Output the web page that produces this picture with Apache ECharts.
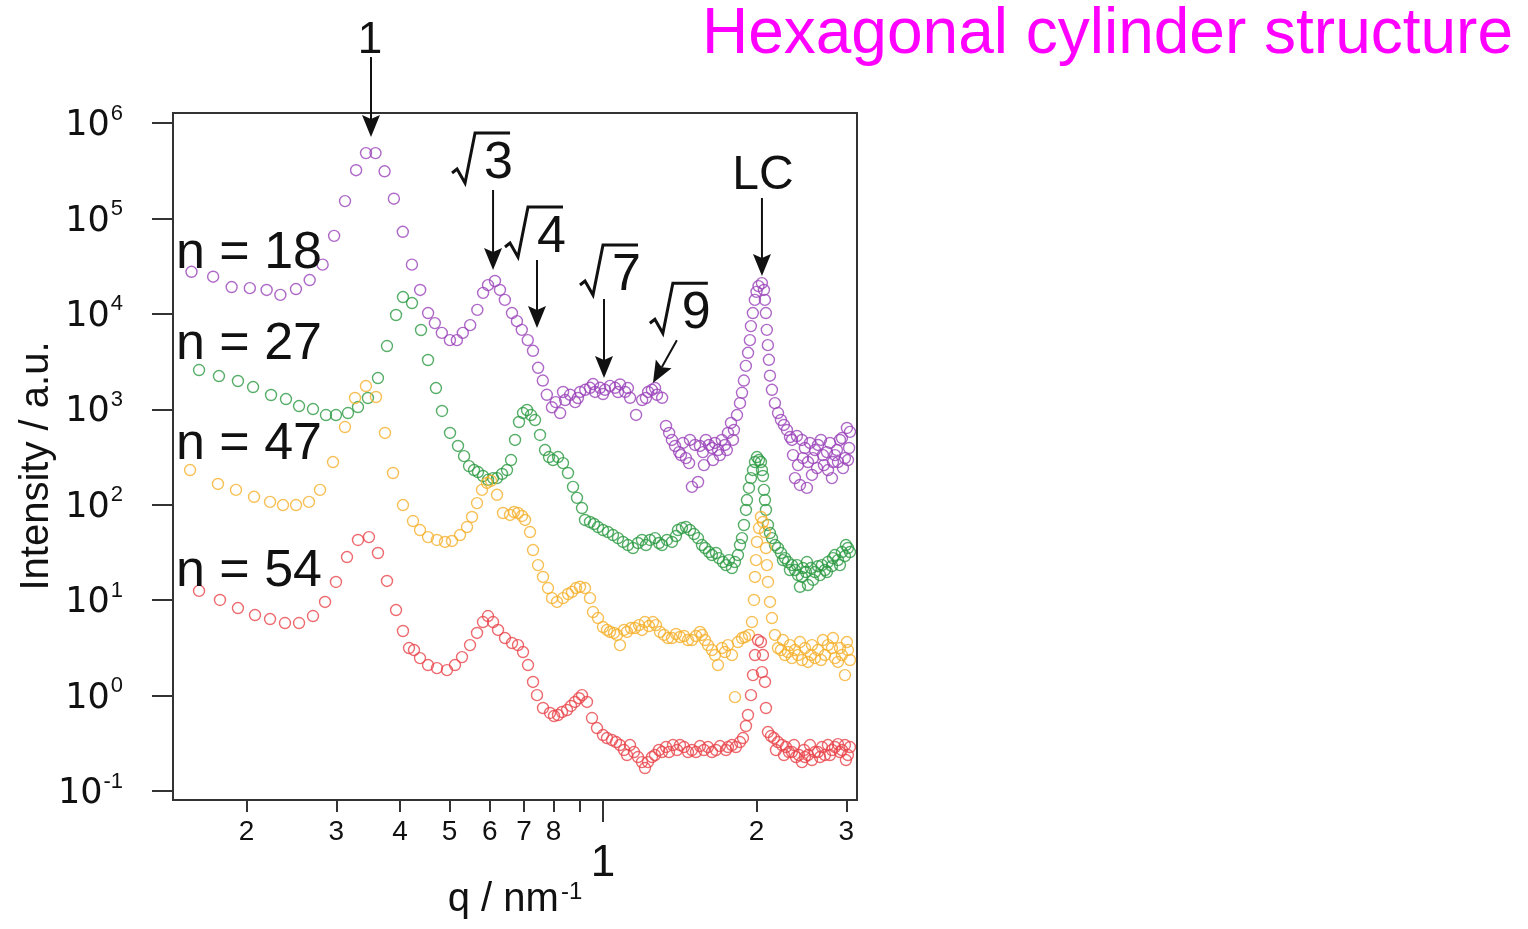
<!DOCTYPE html>
<html>
<head>
<meta charset="utf-8">
<title>Hexagonal cylinder structure</title>
<script src="https://cdn.jsdelivr.net/npm/echarts@6/dist/echarts.min.js"></script>
<style>
  html, body { margin: 0; padding: 0; background: #ffffff; }
  #chart { width: 1528px; height: 929px; }
</style>
</head>
<body>
<div id="chart"></div>
<script>
// ---- axis ticks and labels ----
const qMinorTicks = [0.2, 0.3, 0.4, 0.5, 0.6, 0.7, 0.8, 0.9, 2, 3];
const qMajorTicks = [1];
const qLabelValues = [0.2, 0.3, 0.4, 0.5, 0.6, 0.7, 0.8, 1, 2, 3];
const qLabelTexts = ['2', '3', '4', '5', '6', '7', '8', '1', '2', '3'];
const intensityTicks = [0.1, 1, 10, 100, 1000, 10000, 100000, 1000000];
const intensityExponents = ['-1', '0', '1', '2', '3', '4', '5', '6'];

// ---- scattering curves: [q / nm^-1, intensity / a.u.] ----
const seriesNames = ['n = 18', 'n = 27', 'n = 47', 'n = 54'];

const n18 = [
  [0.156,27600],[0.172,24500],[0.187,19100],[0.203,18600],[0.219,17800],[0.233,15800],[0.250,18200],[0.266,22600],
  [0.282,32800],[0.297,65700],[0.312,152000],[0.328,320000],[0.343,484000],[0.358,484000],[0.373,312000],[0.389,161000],
  [0.405,72400],[0.422,32800],[0.438,17800],[0.454,10200],[0.468,8000],[0.483,6320],[0.501,5300],[0.517,5300],
  [0.531,6320],[0.549,7620],[0.567,11000],[0.582,16600],[0.595,20000],[0.614,22100],[0.628,17800],[0.642,14000],
  [0.663,10200],[0.678,8390],[0.693,6800],[0.712,5300],[0.729,4100],[0.746,2720],[0.762,2000],[0.776,1420],
  [0.794,1050],[0.808,1190],[0.824,914],[0.835,1518],[0.843,1250],[0.862,1420],[0.882,1190],[0.893,1313],
  [0.902,1520],[0.923,1600],[0.943,1680],[0.956,1840],[0.965,1520],[0.987,1680],[1.000,1446],[1.009,1600],
  [1.032,1760],[1.056,1680],[1.070,1518],[1.080,1820],[1.105,1520],[1.119,1670],[1.130,1320],[1.161,872],
  [1.193,1250],[1.214,1313],[1.226,1520],[1.247,1600],[1.265,1670],[1.276,1420],[1.306,1320],
  [1.329,669],[1.348,565],[1.365,477],[1.384,413],[1.410,356],[1.422,331],[1.435,444],[1.454,308],
  [1.475,273],[1.481,477],[1.494,154],[1.515,423],[1.536,173],[1.549,413],[1.570,356],[1.577,260],
  [1.591,477],[1.614,423],[1.636,393],[1.643,294],[1.658,444],[1.681,374],[1.695,331],[1.710,477],
  [1.734,423],[1.749,374],[1.758,565],[1.782,719],[1.798,477],[1.806,607],[1.831,870],[1.856,1160],
  [1.873,1490],[1.889,2000],[1.906,2850],[1.925,3910],[1.941,5300],[1.950,7440],[1.967,10200],[1.985,14000],
  [2.000,17000],[2.018,19550],[2.049,21000],[2.068,17800],[2.077,14000],[2.086,10200],[2.095,6800],[2.105,4700],
  [2.115,3300],[2.125,2250],[2.144,1600],[2.173,1160],[2.204,914],[2.233,773],[2.263,685],[2.294,607],
  [2.326,512],[2.347,477],[2.358,331],[2.379,190],[2.400,525],[2.412,260],[2.433,161],[2.455,477],
  [2.466,308],[2.488,393],[2.511,150],[2.523,280],[2.546,444],[2.569,205],[2.581,308],[2.604,374],
  [2.628,242],[2.640,423],[2.675,477],[2.699,331],[2.711,260],[2.748,356],[2.762,231],[2.786,444],
  [2.811,190],[2.824,280],[2.850,331],[2.875,374],[2.889,280],[2.915,477],[2.941,500],[2.955,242],
  [2.981,308],[3.008,637],[3.023,294],[3.037,393],[3.050,580]
];

const n27 = [
  [0.1614,2580],[0.1766,2231],[0.1924,1979],[0.2060,1711],[0.2234,1412],[0.2390,1281],[0.2535,1082],[0.2700,1006],
  [0.2863,871],[0.2995,871],[0.3162,914],[0.3308,1056],[0.3460,1313],[0.3620,2126],[0.3771,4603],[0.3928,9730],
  [0.4053,15010],[0.4222,12990],[0.4397,6775],[0.4538,3285],[0.4704,1670],[0.4834,960],[0.5012,565],[0.5196,413],
  [0.5340,323],[0.5461,254],[0.5586,231],[0.5687,220],[0.5817,200],[0.5950,182],[0.6087,190],[0.6197,190],
  [0.6339,210],[0.6483,231],[0.6602,294],[0.6722,477],[0.6844,736],[0.6969,914],[0.7096,983],[0.7225,871],
  [0.7357,772],[0.7525,538],[0.7697,374],[0.7837,316],[0.7980,294],[0.8162,316],[0.8348,273],[0.8538,215],
  [0.8733,154],[0.8892,118],[0.9095,92.3],[0.9219,69.2],[0.9430,65.9],[0.9602,62.8],[0.9776,58.4],[1.0000,54.3],
  [1.0227,51.7],[1.0461,48.1],[1.0700,44.7],[1.0944,40.7],[1.1193,37.8],[1.1450,35.2],[1.1711,39.7],[1.1923,42.7],
  [1.2141,37.8],[1.2363,42.7],[1.2645,44.7],[1.2875,39.7],[1.3050,37.8],[1.3348,42.7],[1.3653,40.7],[1.3902,47.0],
  [1.4028,54.3],[1.4283,57.0],[1.4544,58.4],[1.4810,54.3],[1.5080,49.3],[1.5353,44.7],[1.5633,37.8],[1.5847,35.2],
  [1.6135,31.9],[1.6355,29.7],[1.6653,31.2],[1.6880,27.6],[1.7188,25.1],[1.7422,23.3],[1.7659,26.3],[1.7900,21.7],
  [1.8144,25.1],[1.8391,29.7],[1.8560,37.8],[1.8727,44.7],[1.8898,61.3],[1.9069,88.1],[1.9154,112],[1.9328,150],
  [1.9504,190],[1.9681,231],[1.9860,280],[2.0038,316],[2.0221,294],[2.0404,280],[2.0496,231],[2.0589,200],
  [2.0683,143],[2.0776,112],[2.0870,88.1],[2.1058,61.3],[2.1251,50.5],[2.1442,44.7],[2.1735,37.8],[2.2031,35.2],
  [2.2332,31.2],[2.2534,26.3],[2.2739,27.6],[2.3048,25.1],[2.3259,20.7],[2.3468,23.3],[2.3789,20.7],[2.4003,23.3],
  [2.4113,18.3],[2.4333,13.8],[2.4552,17.5],[2.4664,21.7],[2.5000,19.7],[2.5112,25.1],[2.5226,14.4],[2.5571,21.7],
  [2.5802,16.3],[2.6036,19.7],[2.6390,22.7],[2.6632,18.3],[2.6872,23.3],[2.7239,20.7],[2.7484,19.7],[2.7609,25.1],
  [2.8113,22.7],[2.8241,27.6],[2.8497,29.7],[2.8885,26.3],[2.9148,23.3],[2.9410,31.9],[2.9813,29.0],[2.9947,37.8],
  [3.0218,35.2],[3.0494,31.9]
];

const n47 = [
  [0.1550,231],[0.1758,165],[0.1907,143],[0.2069,121],[0.2224,107],[0.2358,99.2],[0.2501,99.2],[0.2651,107],
  [0.2787,143],[0.2955,280],[0.3119,652],[0.3264,1313],[0.3429,1753],[0.3588,1345],[0.3737,565],[0.3875,215],
  [0.4053,99.2],[0.4241,67.5],[0.4377,54.3],[0.4538,45.8],[0.4725,42.7],[0.4900,40.7],[0.5057,41.7],[0.5244,48.1],
  [0.5412,58.4],[0.5535,74.4],[0.5662,104],[0.5791,143],[0.5923,169],[0.6032,178],[0.6197,127],[0.6367,81.9],
  [0.6572,78.1],[0.6692,83.9],[0.6813,81.9],[0.6938,76.2],[0.7033,69.2],[0.7193,51.7],[0.7291,33.5],[0.7457,23.3],
  [0.7627,17.5],[0.7801,13.4],[0.7944,10.5],[0.8125,9.57],[0.8348,10.5],[0.8538,11.6],[0.8694,12.2],[0.8852,13.4],
  [0.9014,13.8],[0.9219,13.4],[0.9430,10.5],[0.9558,7.51],[0.9776,6.49],[0.9999,5.23],[1.0181,4.87],[1.0321,4.64],
  [1.0509,4.53],[1.0651,4.32],[1.0797,3.38],[1.0994,4.87],[1.1142,4.64],[1.1347,5.10],[1.1553,5.10],[1.1764,5.48],
  [1.1923,4.87],[1.2086,5.90],[1.2306,5.35],[1.2531,5.90],[1.2702,5.48],[1.2934,4.64],[1.3169,4.32],[1.3409,4.01],
  [1.3653,4.01],[1.3902,4.42],[1.4156,4.11],[1.4414,4.21],[1.4676,3.82],[1.4943,3.82],[1.5216,4.21],[1.5494,4.64],
  [1.5633,4.32],[1.5847,3.82],[1.6063,3.38],[1.6355,3.00],[1.6579,2.66],[1.6804,2.09],[1.7110,3.15],[1.7344,2.86],
  [1.7579,3.38],[1.7900,2.66],[1.8144,0.963],[1.8391,3.64],[1.8727,4.01],[1.8983,4.11],[1.9328,4.32],[1.9592,5.90],
  [1.9770,10.04],[1.9860,17.5],[1.9949,26.3],[2.0038,40.7],[2.0221,57.0],[2.0404,74.4],[2.0589,65.9],[2.0776,51.7],
  [2.0870,35.2],[2.0964,23.3],[2.1058,15.5],[2.1251,9.57],[2.1442,6.49],[2.1735,4.32],[2.2031,3.15],[2.2332,3.00],
  [2.2534,3.82],[2.2739,2.66],[2.3048,2.86],[2.3259,3.38],[2.3468,2.47],[2.3789,3.00],[2.4113,2.66],[2.4333,3.64],
  [2.4552,2.36],[2.4885,3.15],[2.5226,2.25],[2.5571,2.66],[2.5685,3.38],[2.6036,2.47],[2.6390,3.00],[2.6752,2.36],
  [2.6994,3.82],[2.7239,2.66],[2.7609,3.38],[2.8113,3.15],[2.8241,4.01],[2.8497,2.47],[2.8885,2.25],[2.9148,3.15],
  [2.9410,2.66],[2.9813,1.64],[3.0080,3.64],[3.0218,3.00],[3.0494,2.36]
];

const n54 = [
  [0.1614,12.5],[0.1774,10.04],[0.1924,8.27],[0.2078,6.98],[0.2224,6.34],[0.2379,5.76],[0.2535,5.76],[0.2700,6.82],
  [0.2851,9.57],[0.2995,15.5],[0.3148,28.3],[0.3308,42.7],[0.3476,45.8],[0.3620,31.2],[0.3771,15.9],[0.3928,7.88],
  [0.4053,4.75],[0.4165,3.15],[0.4260,3.00],[0.4377,2.47],[0.4538,2.09],[0.4725,1.94],[0.4944,1.85],[0.5126,2.09],
  [0.5291,2.53],[0.5486,3.38],[0.5662,4.53],[0.5817,5.90],[0.5950,6.82],[0.6087,5.90],[0.6225,4.87],[0.6425,4.01],
  [0.6631,3.55],[0.6813,3.38],[0.6969,2.86],[0.7128,2.09],[0.7291,1.39],[0.7423,1.01],[0.7627,0.741],[0.7873,0.657],
  [0.8016,0.611],[0.8162,0.626],[0.8310,0.673],[0.8500,0.706],[0.8655,0.778],[0.8812,0.857],[0.8973,0.939],[0.9095,1.01],
  [0.9302,0.857],[0.9515,0.582],[0.9732,0.457],[0.9999,0.386],[1.0181,0.359],[1.0414,0.342],[1.0604,0.326],[1.0797,0.303],
  [1.0994,0.269],[1.1142,0.238],[1.1296,0.303],[1.1502,0.256],[1.1711,0.227],[1.1923,0.201],[1.2086,0.174],[1.2251,0.201],
  [1.2474,0.227],[1.2645,0.238],[1.2875,0.269],[1.3050,0.256],[1.3288,0.289],[1.3470,0.256],[1.3715,0.303],[1.3964,0.269],
  [1.4156,0.303],[1.4414,0.289],[1.4676,0.256],[1.4943,0.269],[1.5216,0.256],[1.5494,0.296],[1.5776,0.269],[1.6063,0.289],
  [1.6355,0.256],[1.6653,0.269],[1.6957,0.296],[1.7422,0.269],[1.7579,0.289],[1.7900,0.303],[1.8226,0.289],[1.8560,0.326],
  [1.8812,0.359],[1.9069,0.480],[1.9241,0.626],[1.9504,1.01],[1.9681,1.64],[1.9860,2.66],[2.0129,3.82],[2.0404,3.64],
  [2.0496,1.76],[2.0589,2.66],[2.0776,1.39],[2.0870,0.741],[2.1058,0.415],[2.1347,0.377],[2.1638,0.359],[2.1834,0.269],
  [2.2031,0.326],[2.2432,0.303],[2.2637,0.238],[2.2841,0.289],[2.3152,0.256],[2.3468,0.256],[2.3683,0.303],[2.3896,0.227],
  [2.4222,0.238],[2.4552,0.201],[2.4776,0.269],[2.4885,0.227],[2.5226,0.238],[2.5456,0.303],[2.5685,0.211],[2.6036,0.256],
  [2.6390,0.256],[2.6632,0.227],[2.6872,0.289],[2.7239,0.238],[2.7609,0.303],[2.7862,0.238],[2.8113,0.269],[2.8497,0.289],
  [2.8885,0.310],[2.9148,0.256],[2.9410,0.269],[2.9813,0.303],[2.9947,0.211],[3.0218,0.238],[3.0494,0.289]
];

// ---- peak assignments (arrow tips sit on the n = 18 curve) ----
const peakLabels = ['1', '√3', '√4', '√7', '√9', 'LC'];
const peakQ = [0.3508, 0.6087, 0.7423, 1.0045, 1.2531, 2.0496];
const peakI = [713000, 28830, 7109, 2127, 1886, 24930];

// ---- drawing styles ----
const FONT = "'Liberation Sans', Arial, Helvetica, sans-serif";
const INK = '#111111';
const AXIS = '#333333';
const seriesColors = ['#9a42b9', '#2c9a42', '#f5b02c', '#e8454b'];
const seriesData = [n18, n27, n47, n54];

// arrow length (px) and direction, label offsets relative to the arrow tail
const arrowGeometry = [
  { len: 80, dir: [0, 1], kind: 'plain', dx: -1, dy: -3, size: 44 },
  { len: 80, dir: [0, 1], kind: 'root', dx: -18, dy: -10 },
  { len: 68, dir: [0, 1], kind: 'root', dx: -9, dy: -6 },
  { len: 79, dir: [0, 1], kind: 'root', dx: -1, dy: -7 },
  { len: 49, dir: [-24, 43], kind: 'root', dx: -4, dy: -10 },
  { len: 78, dir: [0, 1], kind: 'plain', dx: 1, dy: -7, size: 48 }
];

// baseline placement helper: zrender centres text on the em box
function baselineY(base, size) { return base - 0.31 * size; }

function renderPeak(params, api) {
  const i = api.value(2);
  const g = arrowGeometry[i];
  const tip = api.coord([api.value(0), api.value(1)]);
  const m = Math.hypot(g.dir[0], g.dir[1]);
  const d = [g.dir[0] / m, g.dir[1] / m];
  const p = [-d[1], d[0]];
  const tail = [tip[0] - d[0] * g.len, tip[1] - d[1] * g.len];
  const headLen = 22, headHalf = 9;
  const base = [tip[0] - d[0] * headLen, tip[1] - d[1] * headLen];
  const notch = [tip[0] - d[0] * headLen * 0.82, tip[1] - d[1] * headLen * 0.82];
  const children = [
    { type: 'line', shape: { x1: tail[0], y1: tail[1], x2: notch[0], y2: notch[1] },
      style: { stroke: INK, lineWidth: 2 } },
    { type: 'polygon', shape: { points: [tip, [base[0] + p[0] * headHalf, base[1] + p[1] * headHalf], notch,
        [base[0] - p[0] * headHalf, base[1] - p[1] * headHalf]] },
      style: { fill: INK } }
  ];
  const label = peakLabels[i];
  if (g.kind === 'root') {
    const U = tail[0] + g.dx;      // top of the radical's long stroke
    const B = tail[1] + g.dy;      // digit baseline
    children.push({
      type: 'polyline',
      shape: { points: [[U - 23, B - 7], [U - 18, B - 11], [U - 10, B + 3], [U, B - 47], [U + 35, B - 47]] },
      style: { stroke: INK, lineWidth: 3, fill: null, lineJoin: 'miter' }
    });
    children.push({
      type: 'text',
      style: { x: U + 9, y: baselineY(B, 52), text: label.slice(1), font: '52px ' + FONT,
        fill: INK, align: 'left', verticalAlign: 'middle' }
    });
  } else {
    children.push({
      type: 'text',
      style: { x: tail[0] + g.dx, y: baselineY(tail[1] + g.dy, g.size), text: label, font: g.size + 'px ' + FONT,
        fill: INK, align: 'center', verticalAlign: 'middle' }
    });
  }
  return { type: 'group', children };
}

const chart = echarts.init(document.getElementById('chart'), null, { renderer: 'canvas' });

const scatterSeries = seriesData.map((data, k) => ({
  name: seriesNames[k],
  type: 'scatter',
  data: data,
  xAxisIndex: 0,
  yAxisIndex: 0,
  symbol: 'circle',
  symbolSize: 11,
  itemStyle: { color: 'rgba(255,255,255,0)', borderColor: seriesColors[k], borderWidth: 1.4 },
  silent: true,
  z: 3
}));

// "n = .." captions, baselines in px
const captionBaselines = [270, 361, 461, 588];

chart.setOption({
  animation: false,
  backgroundColor: '#ffffff',
  grid: { left: 173, top: 113, width: 684, height: 687, show: true, borderColor: AXIS, borderWidth: 2,
    backgroundColor: 'rgba(0,0,0,0)', containLabel: false, outerBoundsMode: 'none' },
  xAxis: [
    {
      type: 'log', logBase: 10, min: 0.1435, max: 3.148,
      name: '{t|q / nm}{s|-1}', nameLocation: 'middle', nameGap: 80, nameMoveOverlap: false,
      nameTextStyle: { rich: {
        t: { fontFamily: FONT, fontSize: 40, color: INK },
        s: { fontFamily: FONT, fontSize: 24, color: INK, verticalAlign: 'top', padding: [0, 0, 16, 2] }
      } },
      axisLine: { show: false },
      splitLine: { show: false },
      minorTick: { show: false },
      axisTick: { show: true, inside: false, length: 12, customValues: qMinorTicks,
        lineStyle: { color: AXIS, width: 2 } },
      axisLabel: {
        show: true, margin: 18, customValues: qLabelValues,
        formatter: function (v) {
          let idx = 0, best = Infinity;
          qLabelValues.forEach((t, j) => { const e = Math.abs(Math.log(t / v)); if (e < best) { best = e; idx = j; } });
          return qLabelValues[idx] === 1 ? '{big|' + qLabelTexts[idx] + '}' : '{n|' + qLabelTexts[idx] + '}';
        },
        rich: {
          n: { fontFamily: FONT, fontSize: 28, color: INK },
          big: { fontFamily: FONT, fontSize: 44, color: INK, padding: [24, 0, 0, 0] }
        }
      }
    },
    {
      type: 'log', logBase: 10, min: 0.1435, max: 3.148, position: 'bottom',
      axisLine: { show: false }, splitLine: { show: false }, axisLabel: { show: false },
      axisTick: { show: true, inside: false, length: 22, customValues: qMajorTicks,
        lineStyle: { color: AXIS, width: 2 } }
    }
  ],
  yAxis: {
    type: 'log', logBase: 10, min: 0.0805, max: 1273000,
    axisLine: { show: false },
    splitLine: { show: false },
    minorTick: { show: false },
    axisTick: { show: true, inside: false, length: 21, customValues: intensityTicks,
      lineStyle: { color: AXIS, width: 2 } },
    axisLabel: {
      show: true, margin: 50, customValues: intensityTicks,
      formatter: function (v) {
        let idx = 0, best = Infinity;
        intensityTicks.forEach((t, j) => { const e = Math.abs(Math.log(t / v)); if (e < best) { best = e; idx = j; } });
        return '{b|10}{s|' + intensityExponents[idx] + '}';
      },
      rich: {
        b: { fontFamily: "'DejaVu Sans', " + FONT, fontSize: 35, color: INK, padding: [6, 0, 0, 0] },
        s: { fontFamily: FONT, fontSize: 22, color: INK, verticalAlign: 'top', padding: [0, 0, 0, 1] }
      }
    }
  },
  series: scatterSeries.concat([{
    type: 'custom',
    name: 'peaks',
    coordinateSystem: 'cartesian2d',
    xAxisIndex: 0,
    yAxisIndex: 0,
    data: peakQ.map((q, i) => [q, peakI[i], i]),
    encode: { x: 0, y: 1 },
    renderItem: renderPeak,
    clip: false,
    silent: true,
    z: 10
  }]),
  graphic: seriesNames.map((name, k) => ({
    type: 'text', x: 176, y: baselineY(captionBaselines[k], 52), z: 20, silent: true,
    style: { text: name, font: '52px ' + FONT, fill: INK, align: 'left', verticalAlign: 'middle' }
  })).concat([
    {
      // y-axis title, reading upwards
      type: 'text', x: 37, y: 466, rotation: Math.PI / 2, z: 20, silent: true,
      style: { text: 'Intensity / a.u.', font: '40px ' + FONT, fill: INK, align: 'center', verticalAlign: 'middle' }
    },
    {
      type: 'text', x: 1513, y: baselineY(55, 64), z: 20, silent: true,
      style: { text: 'Hexagonal cylinder structure', font: '64px ' + FONT, fill: '#ff00ff',
        align: 'right', verticalAlign: 'middle' }
    }
  ])
});
</script>
</body>
</html>
